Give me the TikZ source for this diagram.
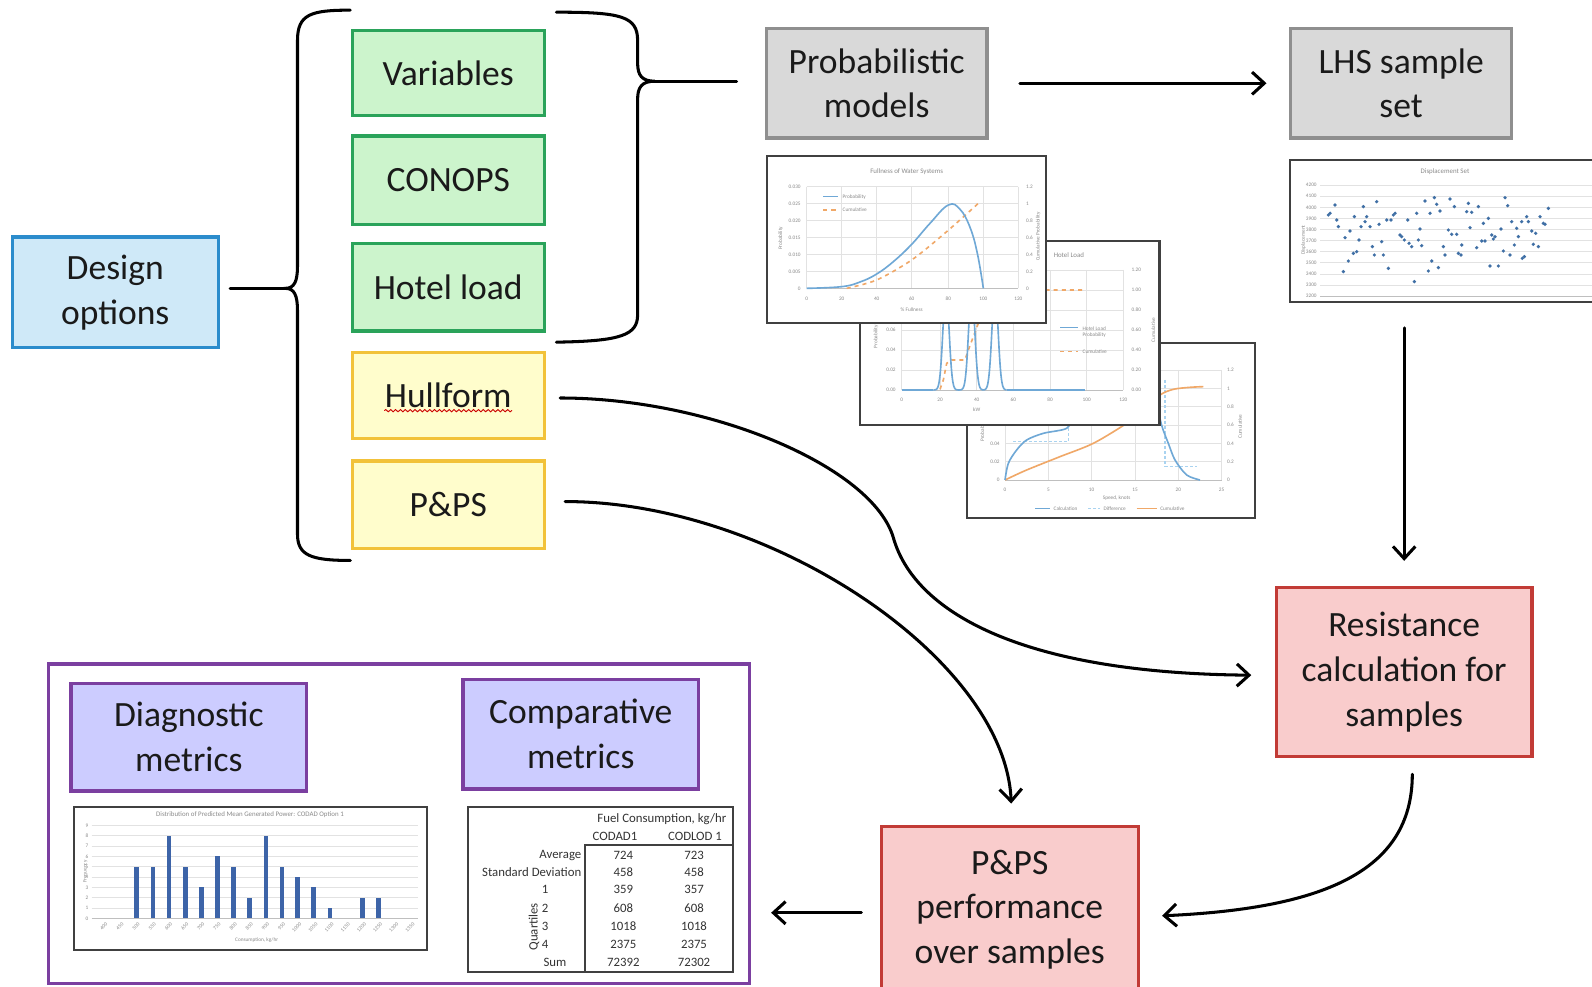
\documentclass[tikz,border=0pt]{standalone}
\usepackage{fontspec}
\setmainfont{Carlito}
\usetikzlibrary{arrows.meta,calc,decorations.pathmorphing}
\definecolor{bluefill}{HTML}{CFE9F8}
\definecolor{blueline}{HTML}{2B8CCC}
\definecolor{greenfill}{HTML}{CCF4CC}
\definecolor{greenline}{HTML}{2AA35A}
\definecolor{yellowfill}{HTML}{FFFDCC}
\definecolor{yellowline}{HTML}{F2C23A}
\definecolor{grayfill}{HTML}{D9D9D9}
\definecolor{grayline}{HTML}{8F8F8F}
\definecolor{redfill}{HTML}{F9CCCC}
\definecolor{redline}{HTML}{C23B36}
\definecolor{lavfill}{HTML}{CCCCFF}
\definecolor{purpline}{HTML}{7B3FA0}
\definecolor{txt}{HTML}{1A1A1A}
\definecolor{chartline}{HTML}{404040}
\definecolor{gridc}{HTML}{E2E2E2}
\definecolor{axisc}{HTML}{BFBFBF}
\definecolor{tickc}{HTML}{8A8A8A}
\definecolor{cblue}{HTML}{6FA8D6}
\definecolor{clblue}{HTML}{A9D3F0}
\definecolor{corange}{HTML}{F0A868}
\definecolor{barc}{HTML}{3D64A8}
\definecolor{dotc}{HTML}{3F6FA5}
\definecolor{tabtxt}{HTML}{333333}
\tikzset{
  box/.style={draw, line width=1.6pt, inner sep=0pt, align=center, text=txt,
    font=\fontsize{17.5}{22}\selectfont},
  bluebox/.style={box, fill=bluefill, draw=blueline, minimum width=101.5pt},
  greenbox/.style={box, fill=greenfill, draw=greenline, minimum width=94.5pt},
  yellowbox/.style={box, fill=yellowfill, draw=yellowline, minimum width=94.5pt},
  graybox/.style={box, fill=grayfill, draw=grayline},
  redbox/.style={box, fill=redfill, draw=redline},
  lavbox/.style={box, fill=lavfill, draw=purpline, minimum width=116pt},
  conn/.style={line width=1.5pt, draw=black, line cap=round},
  arr/.style={conn, -{Straight Barb[length=6pt,width=11pt]}},
  chartframe/.style={draw=chartline, fill=white, line width=1pt, inner sep=0pt},
  gridl/.style={draw=gridc, line width=0.3pt},
  axisl/.style={draw=axisc, line width=0.4pt},
  tick/.style={font=\fontsize{2.6}{3}\selectfont, text=tickc, inner sep=0.3pt},
  ttl/.style={font=\fontsize{3.4}{4}\selectfont, text=tickc, inner sep=0.3pt},
  cb/.style={draw=cblue, line width=0.8pt},
  co/.style={draw=corange, line width=0.8pt},
  cod/.style={draw=corange, line width=0.8pt, dash pattern=on 2pt off 2pt},
  cld/.style={draw=clblue, line width=0.5pt, dash pattern=on 1.5pt off 1pt},
}
\begin{document}
\begin{tikzpicture}[x=0.5pt,y=-0.5pt]
\useasboundingbox (0,0) rectangle (1568,972);
\fill[white] (0,0) rectangle (1568,972);

% ---------------- main boxes ----------------
\node[bluebox, minimum height=54.5pt] (design) at (113.5,288) {Design\\options};
\node[greenbox, minimum height=42pt] (vars) at (441.5,72) {Variables};
\node[greenbox, minimum height=43.5pt] (conops) at (441.5,177.5) {CONOPS};
\node[greenbox, minimum height=43pt] (hotel) at (441.5,283) {Hotel load};
\node[yellowbox, minimum height=42.5pt] (hull) at (441.5,389.5) {Hullform};
\node[yellowbox, minimum height=43pt] (pps) at (441.5,497) {P\&PS};
\node[graybox, minimum width=108.5pt, minimum height=54pt] (prob) at (863.5,82) {Probabilistic\\models};
\node[graybox, minimum width=109pt, minimum height=54pt] (lhs) at (1380,82) {LHS sample\\set};
\node[redbox, minimum width=126pt, minimum height=83pt] (res) at (1383,662) {Resistance\\calculation for\\samples};
\node[redbox, minimum width=126.5pt, minimum height=82pt] (perf) at (994.5,896) {P\&PS\\performance\\over samples};

% spell-check squiggle under Hullform
\draw[red!80!black, line width=0.45pt, decorate, decoration={snake, amplitude=0.55pt, segment length=2.4pt}]
  ($(hull.center)+(-63,15)$) -- ($(hull.center)+(63,15)$);

% ---------------- braces ----------------
\coordinate (lTip) at (281,284);
\draw[conn] (345,10) .. controls (306,10) and (293,14) .. (293,40) -- (293,262)
  .. controls (293,277) and (290,284) .. (lTip)
  .. controls (290,284) and (293,291) .. (293,306) -- (293,526)
  .. controls (293,547) and (306,552) .. (345,552);
\draw[conn] ($(design.east |- lTip)+(10,0)$) -- (lTip);

\coordinate (rTip) at (645,80);
\draw[conn] (548,12) .. controls (612,12) and (628,16) .. (628,40) -- (628,62)
  .. controls (628,74) and (632,80) .. (rTip)
  .. controls (632,80) and (628,86) .. (628,98) -- (628,310)
  .. controls (628,330) and (612,336) .. (548,337);
\draw[conn] (rTip) -- ($(prob.west |- rTip)+(-28,0)$);

% ---------------- chart 3 (back) ----------------
\node[chartframe, minimum width=142pt, minimum height=86pt] (chart3) at (1094,424) {};
\begin{scope}[shift={(748.55,147.74)}, scale=0.3283]
  \foreach \y in {660,715,770,825,880,935} \draw[gridl] (735,\y) -- (1385,\y);
  \foreach \x in {735,865,995,1125,1255,1385} \draw[gridl] (\x,660) -- (\x,990);
  \draw[axisl] (735,990) -- (1385,990);
  \foreach \y/\l [count=\i] in {990/0,935/0.02,880/0.04,825/0.06,770/0.08,715/0.1,660/0.12}
    \node[tick, anchor=east] (c3l\i) at (722,\y) {\l};
  \foreach \y/\l [count=\i] in {990/0,935/0.2,880/0.4,825/0.6,770/0.8,715/1,660/1.2}
    \node[tick, anchor=west] (c3r\i) at (1398,\y) {\l};
  \foreach \x/\l [count=\i] in {735/0,865/5,995/10,1125/15,1255/20,1385/25}
    \node[tick] (c3x\i) at (\x,1020) {\l};
  \node[tick] (c3xt) at (1070,1045) {Speed, knots};
  \node[tick, rotate=90] (c3yt) at (668,840) {Probability};
  \node[tick, rotate=90] (c3rt) at (1440,830) {Cumulative};
  \draw[cld] (760,875) -- (925,875) -- (925,830);
  \draw[cld] (1215,690) -- (1215,950) -- (1310,950);
  \draw[co] plot[smooth] coordinates {(735,990) (800,960) (900,920) (1000,880) (1100,820) (1150,780) (1200,735) (1240,718) (1290,712) (1330,710)};
  \draw[cb] plot[smooth] coordinates {(735,990) (745,940) (770,900) (800,870) (850,850) (920,835) (935,800) (950,760)};
  \draw[cb] plot[smooth] coordinates {(1185,740) (1205,826) (1225,880) (1245,930) (1280,975) (1320,990)};
  \draw[cb] (825,1075) -- (870,1075);
  \node[tick, anchor=west] (c3g1) at (878,1075) {Calculation};
  \draw[cld] (985,1075) -- (1020,1075);
  \node[tick, anchor=west] (c3g2) at (1028,1075) {Difference};
  \draw[co] (1130,1075) -- (1190,1075);
  \node[tick, anchor=west] (c3g3) at (1198,1075) {Cumulative};
\end{scope}

% ---------------- chart 2 (middle) ----------------
\node[chartframe, minimum width=147.5pt, minimum height=91pt] (chart2) at (994.5,328) {};
\begin{scope}[shift={(748.55,147.74)}, scale=0.3283]
  \foreach \y in {360,420,480,540,600,660} \draw[gridl] (425,\y) -- (1090,\y);
  \foreach \x in {425,540,650,760,870,980,1090} \draw[gridl] (\x,360) -- (\x,720);
  \draw[axisl] (425,720) -- (1090,720);
  \node[ttl, anchor=east] (c2t) at (975,315) {Hotel Load};
  \foreach \y/\l [count=\i] in {720/0.00,660/0.02,600/0.04,540/0.06,480/0.08,420/0.10,360/0.12}
    \node[tick, anchor=east] (c2l\i) at (410,\y) {\l};
  \foreach \y/\l [count=\i] in {720/0.00,660/0.20,600/0.40,540/0.60,480/0.80,420/1.00,360/1.20}
    \node[tick, anchor=west] (c2r\i) at (1112,\y) {\l};
  \foreach \x/\l [count=\i] in {425/0,540/20,650/40,760/60,870/80,980/100,1090/120}
    \node[tick] (c2x\i) at (\x,748) {\l};
  \node[tick] (c2xt) at (650,780) {kW};
  \node[tick, rotate=90] (c2yt) at (348,560) {Probability};
  \node[tick, rotate=90] (c2rt) at (1180,540) {Cumulative};
  \draw[cod] (540,718) -- (550,690) -- (560,640) -- (575,630) -- (615,630) -- (625,600) -- (640,560) -- (655,520) -- (690,470) -- (720,420) -- (975,420);
  \draw[cb] (425,720) -- (520,720);
  \draw[cb] plot[domain=520:740, samples=220] (\x, {720 - 300*exp(-((\x-558)/13)^2) - 300*exp(-((\x-635)/13)^2) - 300*exp(-((\x-705)/13)^2)});
  \draw[cb] (740,720) -- (975,720);
  \draw[cb] (900,533) -- (955,533);
  \node[tick, anchor=west, align=left] (c2g1) at (965,546) {Hotel Load\\Probability};
  \draw[cod] (900,605) -- (955,605);
  \node[tick, anchor=west] (c2g2) at (965,605) {Cumulative};
\end{scope}

% ---------------- chart 1 (front) ----------------
\node[chartframe, minimum width=137.5pt, minimum height=82pt] (chart1) at (892.5,236) {};
\begin{scope}[shift={(748.55,147.74)}, scale=0.3283]
  \foreach \y in {110,161,212,262,313,364} \draw[gridl] (140,\y) -- (775,\y);
  \foreach \x in {140,245,350,455,565,670,775} \draw[gridl] (\x,110) -- (\x,415);
  \draw[axisl] (140,415) -- (775,415);
  \node[ttl] (c1t) at (440,65) {Fullness of Water Systems};
  \foreach \y/\l [count=\i] in {415/0,364/0.005,313/0.010,262/0.015,212/0.020,161/0.025,110/0.030}
    \node[tick, anchor=east] (c1l\i) at (125,\y) {\l};
  \foreach \y/\l [count=\i] in {415/0,364/0.2,313/0.4,262/0.6,212/0.8,161/1,110/1.2}
    \node[tick, anchor=west] (c1r\i) at (795,\y) {\l};
  \foreach \x/\l [count=\i] in {140/0,245/20,350/40,455/60,565/80,670/100,775/120}
    \node[tick] (c1x\i) at (\x,445) {\l};
  \node[tick] (c1xt) at (455,478) {\% Fullness};
  \node[tick, rotate=90] (c1yt) at (62,265) {Probability};
  \node[tick, rotate=90] (c1rt) at (835,260) {Cumulative Probability};
  \draw[cod] plot[smooth] coordinates {(260,415) (350,390) (455,330) (560,245) (655,160)};
  \draw[cb] plot[smooth, tension=0.7] coordinates {(140,415) (245,410) (300,396) (350,372) (400,335) (455,283) (510,220) (565,165) (600,178) (630,232) (652,310) (670,415)};
  \draw[cb] (190,140) -- (235,140);
  \node[tick, anchor=west] (c1g1) at (245,140) {Probability};
  \draw[cod] (190,180) -- (235,180);
  \node[tick, anchor=west] (c1g2) at (245,180) {Cumulative};
\end{scope}

% ---------------- LHS scatter chart ----------------
\node[chartframe, minimum width=154.5pt, minimum height=69.5pt] (chartLHS) at (1425.5,227.5) {};
\begin{scope}[shift={(1265.63,152.66)}, scale=0.3283]
  \foreach \y in {90,123,157,190,223,257,290,323,357,390} \draw[gridl] (105,\y) -- (935,\y);
  \draw[axisl] (105,423) -- (935,423);
  \node[ttl] (ct) at (480,50) {Displacement Set};
  \foreach \y/\l [count=\i] in {90/4200,123/4100,157/4000,190/3900,223/3800,257/3700,290/3600,323/3500,357/3400,390/3300,423/3200}
    \node[tick, anchor=east] (cLl\i) at (98,\y) {\l};
  \node[tick, rotate=90] (cLyt) at (55,255) {Displacement};
  \foreach \p in {(130,180),(135,175),(150,150),(155,195),(160,215),(175,350),(180,248),(190,318),(195,228),(205,295),(208,185),(215,290),(222,255),(228,215),(235,155),(240,200),(245,185),(255,215),(262,275),(268,300),(275,140),(282,208),(290,260),(295,300),(305,195),(310,340),(318,195),(325,180),(330,175),(345,240),(350,245),(358,255),(368,195),(372,265),(380,275),(388,380),(395,175),(400,255),(405,222),(410,272),(420,138),(430,348),(435,175),(440,318),(448,128),(455,148),(460,338),(465,168),(475,275),(480,300),(490,225),(495,132),(500,238),(508,155),(515,238),(520,295),(528,300),(530,270),(545,170),(550,145),(555,218),(560,172),(575,278),(580,155),(590,258),(595,205),(600,258),(610,190),(615,333),(620,240),(625,252),(630,245),(640,333),(648,222),(655,288),(660,128),(668,152),(675,300),(680,200),(688,270),(695,220),(700,245),(710,200),(712,310),(718,305),(725,185),(730,200),(740,228),(745,268),(752,235),(760,275),(765,185),(775,205),(780,208),(790,160)}
    \fill[dotc] \p circle[radius=5.5];
\end{scope}

% ---------------- metrics frame ----------------
\node[draw=purpline, line width=1.5pt, fill=white, minimum width=345pt, minimum height=157.5pt, inner sep=0pt] (frame) at (393,811.5) {};
\node[lavbox, minimum height=53pt] (diag) at (186,726) {Diagnostic\\metrics};
\node[lavbox, minimum height=54pt] (comp) at (572,723) {Comparative\\metrics};

% bar chart
\node[chartframe, minimum width=174pt, minimum height=70.5pt] (barchart) at (247,865.5) {};
\begin{scope}[shift={(59.10,787.95)}, scale=0.3283]
  \foreach \k in {1,...,9} \draw[gridl] (95,355-31*\k) -- (1075,355-31*\k);
  \draw[axisl] (95,355) -- (1075,355);
  \node[ttl] (bt) at (570,45) {Distribution of Predicted Mean Generated Power: CODAD Option 1};
  \foreach \k in {0,...,9} \node[tick, anchor=east] (bl\k) at (88,355-31*\k) {\k};
  \node[tick, rotate=90] (byt) at (76,215) {Frequency};
  \foreach \x/\v in {230/5,279/5,327/8,377/5,424/3,473/6,521/5,569/2,618/8,666/5,713/4,761/3,810/1,907/2,955/2}
    \fill[barc] (\x-7,355) rectangle (\x+7,355-31*\v);
  \foreach \i in {0,...,19}
    \node[tick, rotate=45, anchor=north east] (bx\i) at (136+48.5*\i,362) {\pgfmathparse{int(400+50*\i)}\pgfmathresult};
  \node[tick] (bxt) at (590,420) {Consumption, kg/hr};
\end{scope}

% table
\node[chartframe, minimum width=130.5pt, minimum height=81pt] (table) at (591.5,876) {};
\begin{scope}[shift={(453.07,787.95)}, scale=0.3283,
    every node/.style={font=\fontsize{6.3}{7}\selectfont, text=tabtxt, inner sep=0pt}]
  \draw[draw=chartline, line width=0.8pt] (375,515) -- (375,135) -- (820,135);
  \node[anchor=east] (tfc) at (800,58) {Fuel Consumption, kg/hr};
  \node (tc1) at (465,110) {CODAD1};
  \node (tc2) at (705,110) {CODLOD 1};
  \foreach \y/\l/\a/\b [count=\i] in {165/Average/724/723,215/Standard Deviation/458/458}{
    \node[anchor=east] (tr\i) at (365,\y) {\l};
    \node (ta\i) at (490,\y) {\a};
    \node (tb\i) at (702,\y) {\b};
  }
  \foreach \y/\l/\a/\b [count=\i] in {268/1/359/357,325/2/608/608,380/3/1018/1018,432/4/2375/2375}{
    \node (tq\i) at (255,\y) {\l};
    \node (tqa\i) at (490,\y) {\a};
    \node (tqb\i) at (702,\y) {\b};
  }
  \node[rotate=90] (tquart) at (222,380) {Quartiles};
  \node (tsum) at (285,488) {Sum};
  \node (tsa) at (490,488) {72392};
  \node (tsb) at (702,488) {72302};
\end{scope}

% ---------------- connectors ----------------
\draw[arr] ($(prob.east)+(31,0)$) -- ($(lhs.west)+(-22,0)$);
\draw[arr] ($(res.north |- chartLHS.south)+(0,25)$) -- ($(res.north)+(0,-25)$);
\draw[arr] ($(hull.east)+(14,2.5)$) .. controls (700,392) and (860,460) .. (880,530)
  .. controls (900,600) and (1000,663) .. ($(res.west)+(-23,3)$);
\draw[arr] ($(pps.east)+(19,-3)$) .. controls (760,494) and (990,650) .. ($(perf.north)+(1.5,-21)$);
\draw[arr] ($(res.south)+(8,16)$) .. controls (1391,860) and (1300,895) .. ($(perf.east)+(22,6)$);
\draw[arr] ($(perf.west)+(-18,3)$) -- ($(frame.east |- perf.west)+(20,3)$);
\end{tikzpicture}
\end{document}
